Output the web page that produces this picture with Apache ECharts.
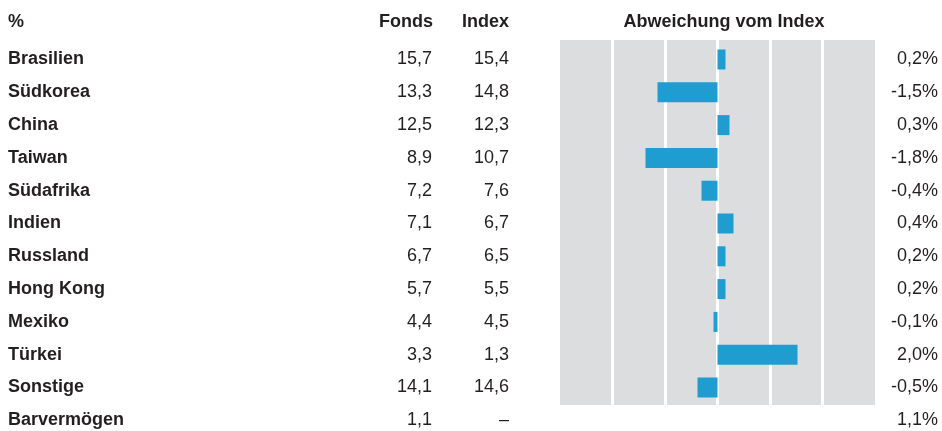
<!DOCTYPE html>
<html>
<head>
<meta charset="utf-8">
<script src="https://cdn.jsdelivr.net/npm/echarts@6/dist/echarts.min.js"></script>
<style>
  html, body { margin: 0; padding: 0; background: #ffffff; }
  #chart { width: 942px; height: 431px; }
</style>
</head>
<body>
<div id="chart"></div>
<script>
// Länderallokation: Fonds vs. Index (in %)
const countries = ['Brasilien', 'Südkorea', 'China', 'Taiwan', 'Südafrika', 'Indien',
  'Russland', 'Hong Kong', 'Mexiko', 'Türkei', 'Sonstige', 'Barvermögen'];
const fondsWeights = [15.7, 13.3, 12.5, 8.9, 7.2, 7.1, 6.7, 5.7, 4.4, 3.3, 14.1, 1.1];
const indexWeights = [15.4, 14.8, 12.3, 10.7, 7.6, 6.7, 6.5, 5.5, 4.5, 1.3, 14.6, null];
const deviations   = [0.2, -1.5, 0.3, -1.8, -0.4, 0.4, 0.2, 0.2, -0.1, 2.0, -0.5, 1.1];
// Rows shown in the table only, without a bar
const tableOnlyRows = ['Barvermögen'];
// Deviation axis ticks (percentage points)
const devTickStep = 1.3125;
const devMin = -3 * devTickStep;
const devMax = 3 * devTickStep;

const FONT = "'Liberation Sans', Arial, Helvetica, sans-serif";
const TEXT = '#231f20';
const BAR = '#209dd0';
const PANEL = '#dcdddf';

const fmt = v => (v === null || v === undefined) ? '–' : v.toFixed(1).replace('.', ',');
const barData = countries.map((c, i) => tableOnlyRows.includes(c) ? null : deviations[i]);

const chart = echarts.init(document.getElementById('chart'), null, { renderer: 'canvas' });

// Row axes: one tick per row, first row at the top edge, last row at the bottom edge
const rowAxis = (data, extra) => Object.assign({
  type: 'category', gridIndex: 1, data: data, inverse: true, boundaryGap: false,
  axisLine: { show: false }, axisTick: { show: false }, splitLine: { show: false }
}, extra);

const rowLabel = (margin, align, weight) => ({
  interval: 0, margin: margin, align: align, color: TEXT,
  fontFamily: FONT, fontSize: 18, fontWeight: weight, padding: [2, 0, 0, 0]
});

const headerText = (text, x, align) => ({
  type: 'text', x: x, y: 22,
  style: { text: text, fill: TEXT, font: 'bold 18px ' + FONT, align: align, verticalAlign: 'middle' }
});

chart.setOption({
  animation: false,
  backgroundColor: '#ffffff',
  grid: [
    { left: 560, width: 315, top: 40, height: 365 },      // grey panel
    { left: 560, width: 315, top: 59.5, height: 360.8 }   // table rows + bars
  ],
  xAxis: [
    {
      type: 'value', gridIndex: 0, min: devMin, max: devMax, interval: devTickStep,
      axisLine: { show: false }, axisTick: { show: false }, axisLabel: { show: false },
      splitArea: { show: true, areaStyle: { color: [PANEL] } },
      splitLine: { show: true, showMinLine: false, showMaxLine: false,
                   lineStyle: { color: '#ffffff', width: 3 } }
    },
    {
      type: 'value', gridIndex: 1, min: devMin, max: devMax,
      show: false, splitLine: { show: false }
    }
  ],
  yAxis: [
    { type: 'value', gridIndex: 0, min: 0, max: 1, show: false, splitLine: { show: false } },
    rowAxis(countries, { position: 'left', axisLabel: rowLabel(552, 'left', 'bold') }),
    rowAxis(fondsWeights.map(fmt), { position: 'left', axisLabel: rowLabel(128, 'right', 'normal') }),
    rowAxis(indexWeights.map(fmt), { position: 'left', axisLabel: rowLabel(51, 'right', 'normal') }),
    rowAxis(deviations.map(v => fmt(v) + '%'), { position: 'right', axisLabel: rowLabel(63, 'right', 'normal') })
  ],
  graphic: [
    headerText('%', 8, 'left'),
    headerText('Fonds', 433, 'right'),
    headerText('Index', 509, 'right'),
    headerText('Abweichung vom Index', 724, 'center')
  ],
  series: [
    {
      type: 'bar', xAxisIndex: 1, yAxisIndex: 1,
      data: barData, barWidth: 20,
      itemStyle: { color: BAR },
      z: 3
    }
  ]
});
</script>
</body>
</html>
